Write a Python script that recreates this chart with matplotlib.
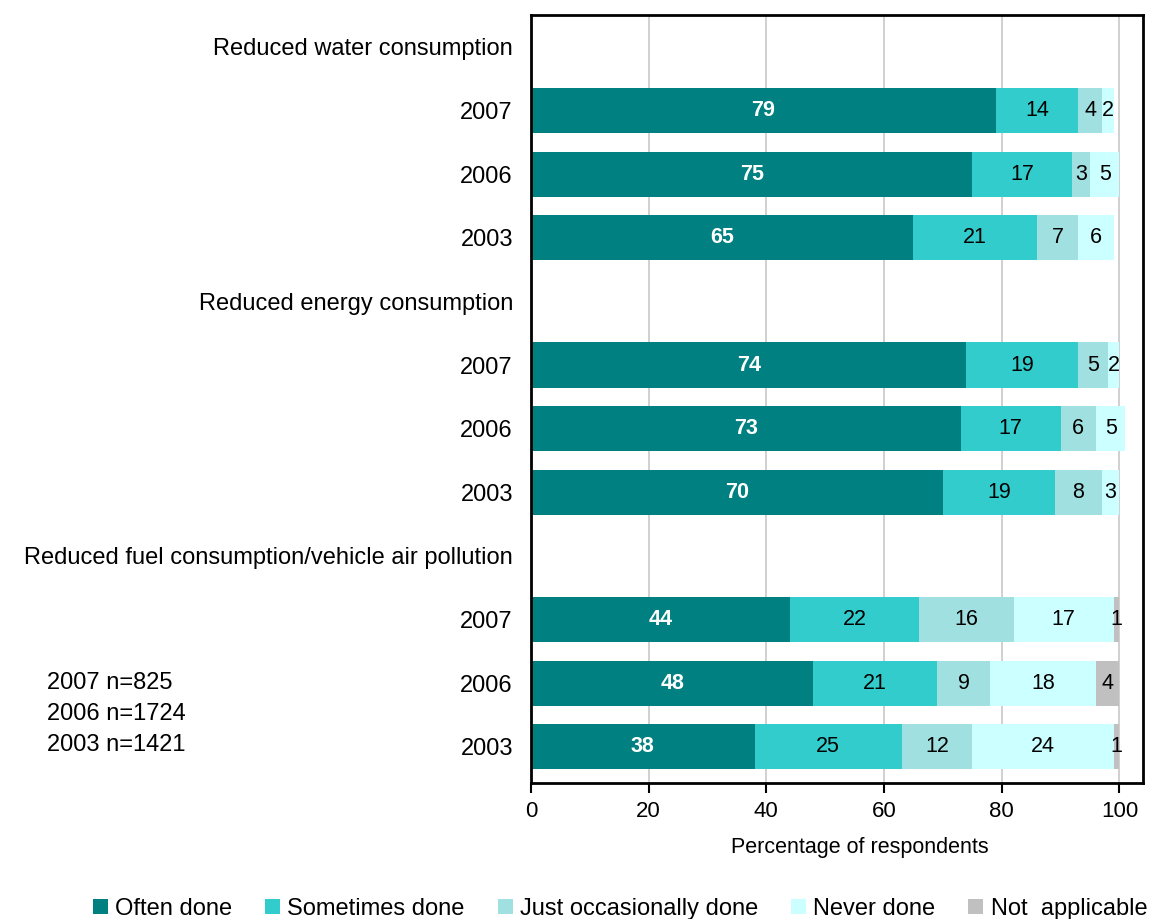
import matplotlib.pyplot as plt
import numpy as np

plt.rcParams['font.family'] = ['Liberation Sans', 'DejaVu Sans']

# survey groups and years shown within each group
categories = ["Reduced water consumption",
              "Reduced energy consumption",
              "Reduced fuel consumption/vehicle air pollution"]
years = ["2007", "2006", "2003"]
sample_notes = ["2007 n=825", "2006 n=1724", "2003 n=1421"]

# percentages, in order water 2007/2006/2003, energy ..., fuel ...
often = [79, 75, 65, 74, 73, 70, 44, 48, 38]
sometimes = [14, 17, 21, 19, 17, 19, 22, 21, 25]
occasionally = [4, 3, 7, 5, 6, 8, 16, 9, 12]
never = [2, 5, 6, 2, 5, 3, 17, 18, 24]
not_applicable = [0, 0, 0, 0, 0, 0, 1, 4, 1]

series = [often, sometimes, occasionally, never, not_applicable]
names = ["Often done", "Sometimes done", "Just occasionally done",
         "Never done", "Not  applicable"]
colors = ["#008080", "#33CCCC", "#A0E0E0", "#CCFFFF", "#C0C0C0"]

# each group gets a header row followed by one row per year
ypos, tick_pos, tick_labels = [], [], []
for g, cat in enumerate(categories):
    tick_pos.append(4 * g)
    tick_labels.append(cat)
    for k, yr in enumerate(years):
        ypos.append(4 * g + 1 + k)
        tick_pos.append(4 * g + 1 + k)
        tick_labels.append(yr)
ypos = np.array(ypos)

fig = plt.figure(figsize=(11.5, 9.19), dpi=100)
ax = fig.add_axes([0.4617, 0.148, 0.5322, 0.8355])

left = np.zeros(len(ypos))
for i, (vals, name, col) in enumerate(zip(series, names, colors)):
    vals = np.array(vals, dtype=float)
    ax.barh(ypos, vals, left=left, height=0.71, color=col, label=name, zorder=2)
    for y, l, v in zip(ypos, left, vals):
        if v <= 0:
            continue
        if i == 0:
            ax.text(l + v / 2, y, f"{v:.0f}", ha='center', va='center',
                    color='white', fontweight='bold', fontsize=15.5)
        else:
            ax.text(l + v / 2, y, f"{v:.0f}", ha='center', va='center',
                    color='black', fontsize=15.5)
    left += vals

ax.set_xlim(0, 104)
ax.set_ylim(11.57, -0.5)
ax.set_xticks([0, 20, 40, 60, 80, 100])
ax.tick_params(axis='x', labelsize=16, length=7, width=1.5, pad=6)
ax.set_yticks(tick_pos)
ax.set_yticklabels(tick_labels, fontsize=17)
ax.tick_params(axis='y', length=0, pad=13)
ax.xaxis.grid(True, color='#C8C8C8', linewidth=1.2, zorder=0)
ax.set_axisbelow(True)
for sp in ax.spines.values():
    sp.set_linewidth(2)
    sp.set_color('black')
ax.set_xlabel("Percentage of respondents", fontsize=15.5)
ax.xaxis.set_label_coords(0.537, -0.070)

for j, note in enumerate(sample_notes):
    fig.text(47 / 1150, 1 - (683 + 31 * j) / 919, note, fontsize=17,
             ha='left', va='center')

fig.legend(loc='lower center', bbox_to_anchor=(0.539, -0.024), ncol=5,
           frameon=False, fontsize=17, handlelength=0.64, handleheight=0.64,
           handletextpad=0.3, columnspacing=1.4)

fig.savefig("out.png", dpi=100)
